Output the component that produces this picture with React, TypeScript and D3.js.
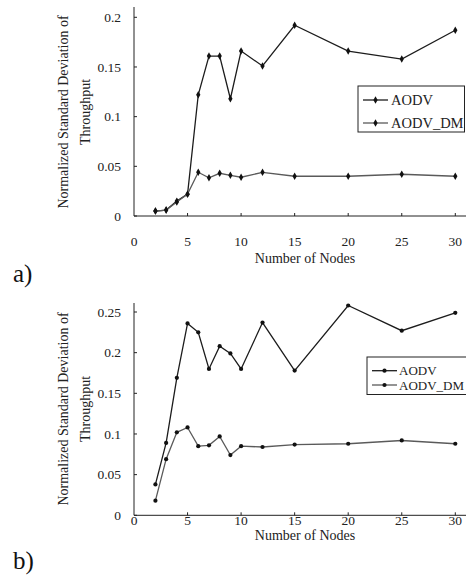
import React from "react";
import * as d3 from "d3";

const nodes = [2, 3, 4, 5, 6, 7, 8, 9, 10, 12, 15, 20, 25, 30];
const aAODV = [0.005, 0.006, 0.015, 0.022, 0.122, 0.161, 0.161, 0.118, 0.166, 0.151, 0.192, 0.166, 0.158, 0.187];
const aAODVDM = [0.005, 0.006, 0.014, 0.022, 0.044, 0.0385, 0.043, 0.041, 0.039, 0.044, 0.040, 0.040, 0.042, 0.040];
const bAODV = [0.038, 0.089, 0.169, 0.236, 0.225, 0.180, 0.208, 0.199, 0.180, 0.237, 0.178, 0.258, 0.227, 0.249];
const bAODVDM = [0.018, 0.069, 0.102, 0.108, 0.085, 0.086, 0.097, 0.074, 0.085, 0.084, 0.087, 0.088, 0.092, 0.088];
const xTicks = [0, 5, 10, 15, 20, 25, 30];
const aYTicks = [0, 0.05, 0.1, 0.15, 0.2];
const bYTicks = [0, 0.05, 0.1, 0.15, 0.2, 0.25];
const seriesNames = ["AODV", "AODV_DM"];
const yTitle = ["Normalized Standard Deviation of", "Throughput"];
const xTitle = "Number of Nodes";

const FONT = "'Liberation Serif', 'Times New Roman', serif";
const lineColors = ["#1c1c1c", "#5a5a5a"];

type PanelProps = {
  top: number; bottom: number; axisTop: number; yMaxTick: number;
  yTicks: number[]; s1: number[]; s2: number[]; symbol: d3.SymbolType; symSize: number;
  xLabelY: number; xTitleY: number; yTitleY: number; legend: { x: number; y: number; w: number; h: number; fs: number; lx: number; tx: number; r1: number; r2: number };
  tag: string; tagY: number;
};

function Panel(p: PanelProps) {
  const x = d3.scaleLinear().domain([0, 30]).range([134, 455.3]);
  const y = d3.scaleLinear().domain([0, p.yMaxTick]).range([p.bottom, p.top]);
  const line = d3.line<number>().x((_, i) => x(nodes[i])).y((d) => y(d));
  const sym = d3.symbol().type(p.symbol).size(p.symSize)();
  const series = [p.s1, p.s2];
  const fmt = (v: number) => (v === 0 ? "0" : String(+v.toFixed(2)));
  const L = p.legend;
  return (
    <g>
      <line x1={134} x2={134} y1={p.axisTop} y2={p.bottom} stroke="#222" strokeWidth={1} />
      <line x1={134} x2={466} y1={p.bottom} y2={p.bottom} stroke="#222" strokeWidth={1} />
      {p.yTicks.map((t) => (
        <g key={"y" + t}>
          <line x1={134} x2={137} y1={y(t)} y2={y(t)} stroke="#222" />
          <text x={121} y={y(t)} dy="0.35em" textAnchor="end" fontSize={13.5} fontFamily={FONT} fill="#222">{fmt(t)}</text>
        </g>
      ))}
      {xTicks.map((t) => (
        <g key={"x" + t}>
          {t > 0 && <line x1={x(t)} x2={x(t)} y1={p.bottom} y2={p.bottom - 3} stroke="#222" />}
          <text x={x(t)} y={p.xLabelY} dy="0.35em" textAnchor="middle" fontSize={13.5} fontFamily={FONT} fill="#222">{t}</text>
        </g>
      ))}
      <text x={305} y={p.xTitleY} dy="0.35em" textAnchor="middle" fontSize={14} fontFamily={FONT} fill="#222">{xTitle}</text>
      {yTitle.map((t, i) => (
        <text key={t} transform={`translate(${63 + i * 22},${p.yTitleY}) rotate(-90)`} dy="0.35em" textAnchor="middle" fontSize={14} fontFamily={FONT} fill="#222">{t}</text>
      ))}
      {series.map((s, k) => (
        <g key={"s" + k}>
          <path d={line(s) || ""} fill="none" stroke={lineColors[k]} strokeWidth={1.3} />
          {s.map((v, i) => (
            <path key={i} d={sym || ""} transform={`translate(${x(nodes[i])},${y(v)})`} fill="#111" />
          ))}
        </g>
      ))}
      <rect x={L.x} y={L.y} width={L.w} height={L.h} fill="#fff" stroke="#222" strokeWidth={1} />
      {seriesNames.map((n, k) => {
        const ry = k === 0 ? L.r1 : L.r2;
        return (
          <g key={n}>
            <line x1={L.lx} x2={L.lx + 25} y1={ry} y2={ry} stroke={lineColors[k]} strokeWidth={1.3} />
            <path d={sym || ""} transform={`translate(${L.lx + 12.5},${ry})`} fill="#111" />
            <text x={L.tx} y={ry} dy="0.35em" fontSize={L.fs} fontFamily={FONT} fill="#222">{n}</text>
          </g>
        );
      })}
      <text x={13} y={p.tagY} dy="0.35em" fontSize={25} fontFamily={FONT} fill="#111">{p.tag}</text>
    </g>
  );
}

export default function App() {
  return (
    <svg width={466} height={581} style={{ position: "absolute", left: 0, top: 0, background: "#fff" }}>
      <rect width={466} height={581} fill="#fff" />
      <Panel top={17.3} bottom={216} axisTop={7} yMaxTick={0.2} yTicks={aYTicks} s1={aAODV} s2={aAODVDM}
        symbol={d3.symbolDiamond} symSize={16} xLabelY={241} xTitleY={258} yTitleY={112}
        legend={{ x: 358, y: 86, w: 106.5, h: 46, fs: 14.5, lx: 363, tx: 391, r1: 100, r2: 123 }}
        tag="a)" tagY={273} />
      <Panel top={312} bottom={515.3} axisTop={303} yMaxTick={0.25} yTicks={bYTicks} s1={bAODV} s2={bAODVDM}
        symbol={d3.symbolCircle} symSize={14} xLabelY={520} xTitleY={535} yTitleY={409}
        legend={{ x: 367, y: 357, w: 110, h: 37.5, fs: 13, lx: 372, tx: 399, r1: 370.7, r2: 385 }}
        tag="b)" tagY={560} />
    </svg>
  );
}
